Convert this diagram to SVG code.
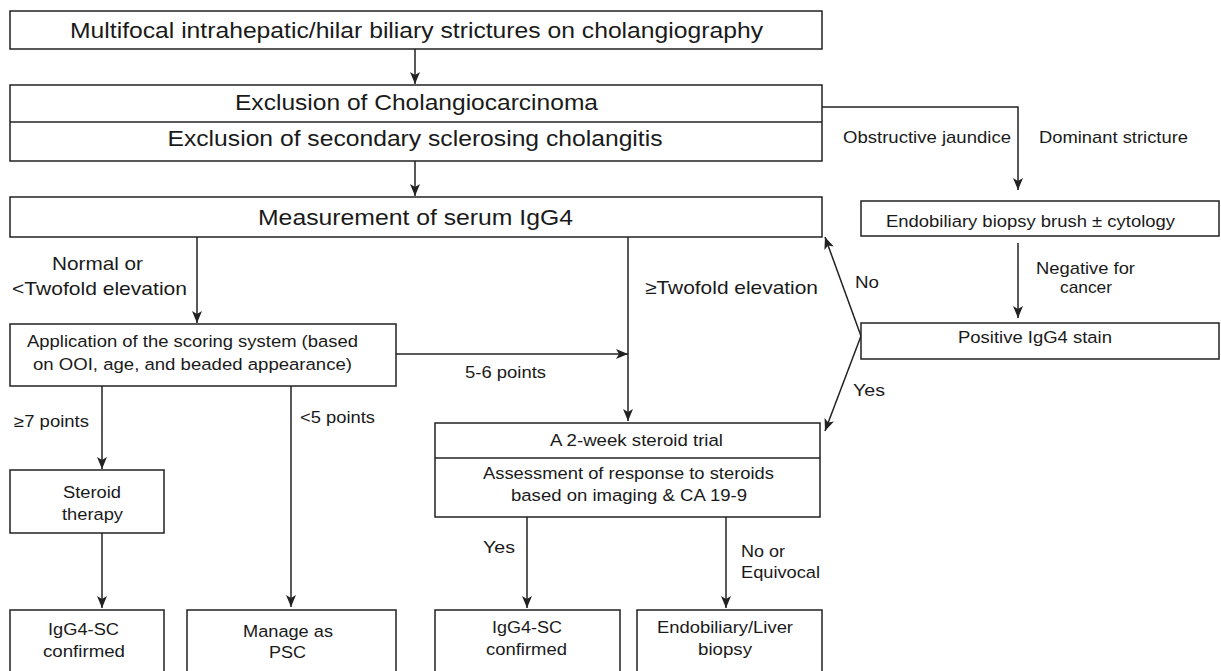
<svg xmlns="http://www.w3.org/2000/svg" width="1221" height="671" viewBox="0 0 1221 671">
<style>
.box{fill:#fff;stroke:#222;stroke-width:1.5}
.ln{fill:none;stroke:#222;stroke-width:1.5}
.t{font-family:"Liberation Sans",Arial,sans-serif;fill:#1a1a1a;text-anchor:middle}
.big{font-size:22px}
.mid{font-size:18.5px}
.lab{font-size:17px}
.sm{font-size:16.3px}
</style>
<defs>
<marker id="ah" viewBox="0 0 12 10" refX="12" refY="5" markerWidth="12" markerHeight="10" markerUnits="userSpaceOnUse" orient="auto">
<path d="M0,0 L12,5 L0,10 L3,5 Z" fill="#222"/>
</marker>
</defs>
<rect width="1221" height="671" fill="#fff"/>

<g id="connectors">
<line class="ln" x1="415" y1="49" x2="415" y2="84" marker-end="url(#ah)"/>
<line class="ln" x1="415" y1="161" x2="415" y2="196" marker-end="url(#ah)"/>
<polyline class="ln" points="822,107 1018,107 1018,190" marker-end="url(#ah)"/>
<line class="ln" x1="1018" y1="243" x2="1018" y2="318" marker-end="url(#ah)"/>
<line class="ln" x1="861" y1="336" x2="825" y2="237" marker-end="url(#ah)"/>
<line class="ln" x1="861" y1="336" x2="825" y2="431" marker-end="url(#ah)"/>
<line class="ln" x1="197" y1="237" x2="197" y2="323" marker-end="url(#ah)"/>
<line class="ln" x1="396" y1="354" x2="628" y2="354" marker-end="url(#ah)"/>
<line class="ln" x1="628" y1="237" x2="628" y2="421" marker-end="url(#ah)"/>
<line class="ln" x1="102" y1="386" x2="102" y2="469" marker-end="url(#ah)"/>
<line class="ln" x1="291" y1="386" x2="291" y2="607" marker-end="url(#ah)"/>
<line class="ln" x1="102" y1="533" x2="102" y2="608" marker-end="url(#ah)"/>
<line class="ln" x1="527" y1="517" x2="527" y2="608" marker-end="url(#ah)"/>
<line class="ln" x1="726" y1="517" x2="726" y2="608" marker-end="url(#ah)"/>
</g>

<g id="edge-labels">
<text class="t lab" x="927" y="143" textLength="168" lengthAdjust="spacingAndGlyphs">Obstructive jaundice</text>
<text class="t lab" x="1113.5" y="143" textLength="149" lengthAdjust="spacingAndGlyphs">Dominant stricture</text>
<text class="t lab" x="1085.5" y="274" textLength="99" lengthAdjust="spacingAndGlyphs">Negative for</text>
<text class="t lab" x="1086" y="293" textLength="52" lengthAdjust="spacingAndGlyphs">cancer</text>
<text class="t lab" x="867" y="288" textLength="24" lengthAdjust="spacingAndGlyphs">No</text>
<text class="t lab" x="869" y="396" textLength="32" lengthAdjust="spacingAndGlyphs">Yes</text>
<text class="t mid" x="97.5" y="270" textLength="91" lengthAdjust="spacingAndGlyphs">Normal or</text>
<text class="t mid" x="99.5" y="295" textLength="175" lengthAdjust="spacingAndGlyphs">&lt;Twofold elevation</text>
<text class="t mid" x="731.5" y="294" textLength="173" lengthAdjust="spacingAndGlyphs">≥Twofold elevation</text>
<text class="t sm" x="505.5" y="378" textLength="81" lengthAdjust="spacingAndGlyphs">5-6 points</text>
<text class="t sm" x="51.5" y="427" textLength="75" lengthAdjust="spacingAndGlyphs">≥7 points</text>
<text class="t sm" x="337.5" y="423" textLength="75" lengthAdjust="spacingAndGlyphs">&lt;5 points</text>
<text class="t sm" x="499" y="553" textLength="32" lengthAdjust="spacingAndGlyphs">Yes</text>
<text class="t sm" x="763" y="557" textLength="44" lengthAdjust="spacingAndGlyphs">No or</text>
<text class="t sm" x="780.5" y="578" textLength="79" lengthAdjust="spacingAndGlyphs">Equivocal</text>
</g>

<g id="n-start">
<rect class="box" x="10" y="11" width="812" height="38"/>
<text class="t big" x="416.5" y="37.5" textLength="693" lengthAdjust="spacingAndGlyphs">Multifocal intrahepatic/hilar biliary strictures on cholangiography</text>
</g>

<g id="n-exclusion">
<rect class="box" x="10" y="85" width="812" height="76"/>
<line class="ln" x1="10" y1="122" x2="822" y2="122"/>
<text class="t big" x="416.5" y="110" textLength="363" lengthAdjust="spacingAndGlyphs">Exclusion of Cholangiocarcinoma</text>
<text class="t big" x="415" y="146" textLength="495" lengthAdjust="spacingAndGlyphs">Exclusion of secondary sclerosing cholangitis</text>
</g>

<g id="n-igg4">
<rect class="box" x="10" y="197" width="812" height="40"/>
<text class="t big" x="415.5" y="225" textLength="315" lengthAdjust="spacingAndGlyphs">Measurement of serum IgG4</text>
</g>

<g id="n-brush">
<rect class="box" x="861" y="201" width="358" height="35"/>
<text class="t sm" x="1030.5" y="227" textLength="289" lengthAdjust="spacingAndGlyphs">Endobiliary biopsy brush ± cytology</text>
</g>

<g id="n-stain">
<rect class="box" x="861" y="323" width="358" height="36"/>
<text class="t sm" x="1035" y="343" textLength="154" lengthAdjust="spacingAndGlyphs">Positive IgG4 stain</text>
</g>

<g id="n-scoring">
<rect class="box" x="10" y="324" width="386" height="62"/>
<text class="t sm" x="192.5" y="347" textLength="331" lengthAdjust="spacingAndGlyphs">Application of the scoring system (based</text>
<text class="t sm" x="192.5" y="370" textLength="319" lengthAdjust="spacingAndGlyphs">on OOI, age, and beaded appearance)</text>
</g>

<g id="n-trial">
<rect class="box" x="435" y="423" width="385" height="94"/>
<line class="ln" x1="435" y1="458" x2="820" y2="458"/>
<text class="t sm" x="636.5" y="446" textLength="173" lengthAdjust="spacingAndGlyphs">A 2-week steroid trial</text>
<text class="t sm" x="628.5" y="479" textLength="291" lengthAdjust="spacingAndGlyphs">Assessment of response to steroids</text>
<text class="t sm" x="629" y="501" textLength="236" lengthAdjust="spacingAndGlyphs">based on imaging &amp; CA 19-9</text>
</g>

<g id="n-steroid">
<rect class="box" x="10" y="470" width="154" height="63"/>
<text class="t sm" x="92" y="498" textLength="58" lengthAdjust="spacingAndGlyphs">Steroid</text>
<text class="t sm" x="92.5" y="520" textLength="61" lengthAdjust="spacingAndGlyphs">therapy</text>
</g>

<g id="n-confirmed1">
<rect class="box" x="10" y="610" width="154" height="75"/>
<text class="t sm" x="83.5" y="635" textLength="71" lengthAdjust="spacingAndGlyphs">IgG4-SC</text>
<text class="t sm" x="84" y="657" textLength="82" lengthAdjust="spacingAndGlyphs">confirmed</text>
</g>

<g id="n-psc">
<rect class="box" x="187" y="610" width="209" height="75"/>
<text class="t sm" x="288" y="637" textLength="90" lengthAdjust="spacingAndGlyphs">Manage as</text>
<text class="t sm" x="287.5" y="658" textLength="37" lengthAdjust="spacingAndGlyphs">PSC</text>
</g>

<g id="n-confirmed2">
<rect class="box" x="435" y="610" width="185" height="75"/>
<text class="t sm" x="527" y="633" textLength="70" lengthAdjust="spacingAndGlyphs">IgG4-SC</text>
<text class="t sm" x="526.5" y="655" textLength="81" lengthAdjust="spacingAndGlyphs">confirmed</text>
</g>

<g id="n-biopsy">
<rect class="box" x="637" y="610" width="185" height="75"/>
<text class="t sm" x="725" y="633" textLength="136" lengthAdjust="spacingAndGlyphs">Endobiliary/Liver</text>
<text class="t sm" x="725" y="655" textLength="54" lengthAdjust="spacingAndGlyphs">biopsy</text>
</g>
</svg>
